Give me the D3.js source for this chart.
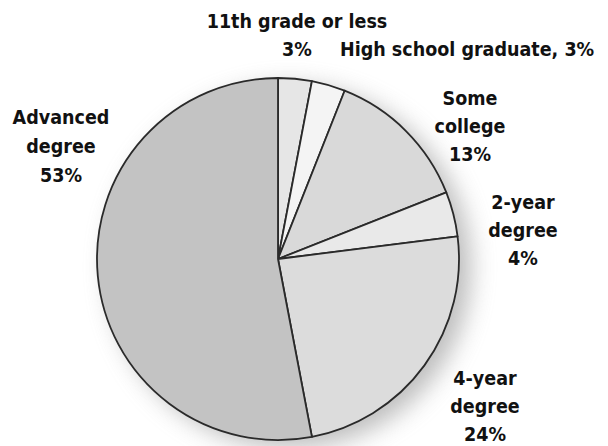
<!DOCTYPE html>
<html>
<head>
<meta charset="utf-8">
<script src="https://cdn.jsdelivr.net/npm/d3@7"></script>
<style>
html,body{margin:0;padding:0;background:#fff;}
svg{display:block;}
text{font-family:"DejaVu Sans Condensed","DejaVu Sans",sans-serif;font-weight:bold;font-size:19.5px;fill:#111;}
</style>
</head>
<body>
<svg id="chart" width="608" height="446"></svg>
<script>
const categories = ["11th grade or less","High school graduate","Some college","2-year degree","4-year degree","Advanced degree"];
const values = [3, 3, 13, 4, 24, 53];
const colors = ["#e6e6e6","#f4f4f4","#d9d9d9","#e9e9e9","#dcdcdc","#c3c3c3"];
const labelLines = [
  ["11th grade or less","3%"],
  ["High school graduate, 3%"],
  ["Some","college","13%"],
  ["2-year","degree","4%"],
  ["4-year","degree","24%"],
  ["Advanced","degree","53%"]
];

const svg = d3.select("#chart");
const cx = 278, cy = 259, r = 181;

const defs = svg.append("defs");
const f = defs.append("filter").attr("id","shadow").attr("x","-50%").attr("y","-50%").attr("width","200%").attr("height","200%");
f.append("feGaussianBlur").attr("stdDeviation", 12);

svg.append("circle").attr("cx", cx + 12).attr("cy", cy + 8).attr("r", r)
  .attr("fill", "#9a9a9a").attr("opacity", 0.65).attr("filter","url(#shadow)");

const pie = d3.pie().sort(null).value(d => d);
const arc = d3.arc().innerRadius(0).outerRadius(r);
const g = svg.append("g").attr("transform", `translate(${cx},${cy})`);
g.selectAll("path").data(pie(values)).join("path")
  .attr("d", arc)
  .attr("fill", (d,i) => colors[i])
  .attr("stroke", "#2a2a2a")
  .attr("stroke-width", 1.8)
  .attr("stroke-linejoin","round");

// label anchor positions (x center, first baseline) and line spacing
const labelPos = [
  {x:297, y:28, dy:28, anchor:"middle"},
  {x:340, y:56, dy:28, anchor:"start"},
  {x:470, y:105, dy:28, anchor:"middle"},
  {x:523, y:209, dy:28, anchor:"middle"},
  {x:485, y:385, dy:28, anchor:"middle"},
  {x:61, y:124, dy:29, anchor:"middle"}
];

labelLines.forEach((lines, i) => {
  const p = labelPos[i];
  const t = svg.append("text").attr("text-anchor", p.anchor);
  lines.forEach((ln, j) => {
    t.append("tspan").attr("x", p.x).attr("y", p.y + j * p.dy).text(ln);
  });
});
</script>
</body>
</html>
